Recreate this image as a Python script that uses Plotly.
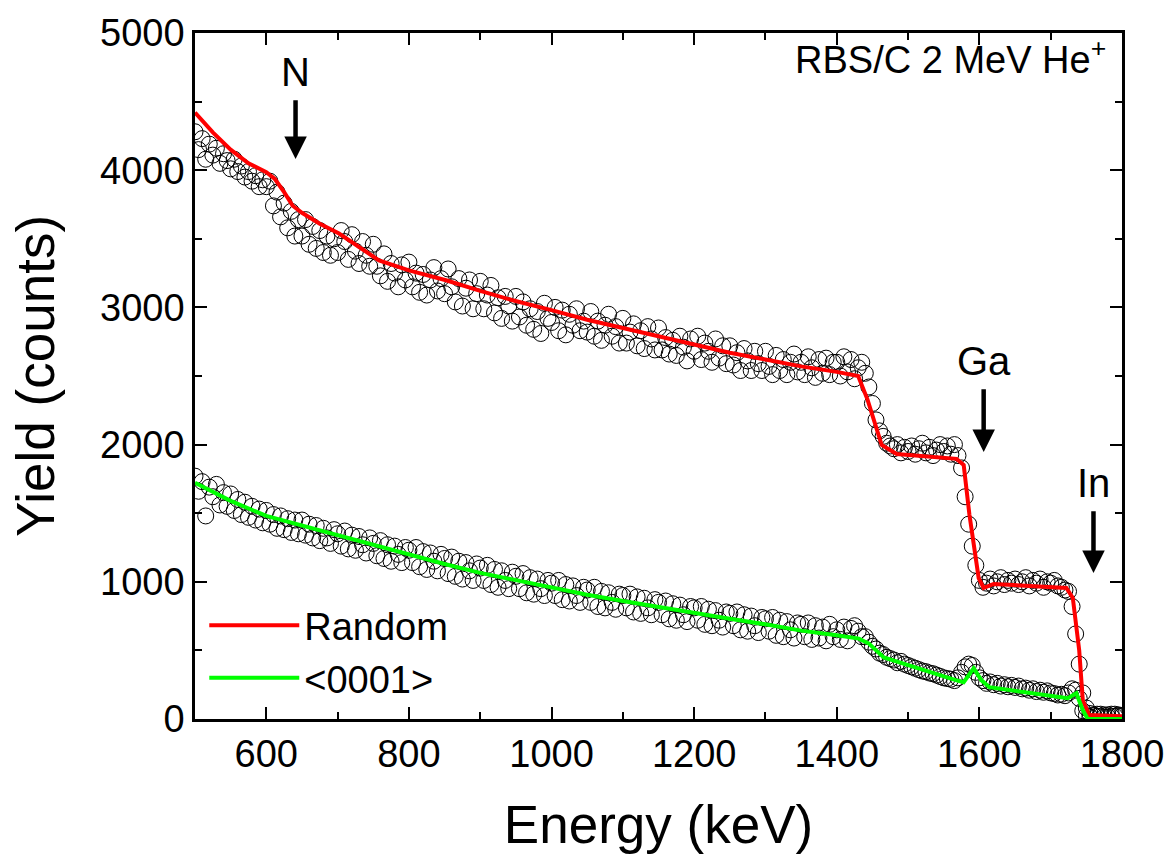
import plotly.graph_objects as go

# ---------------- data ----------------
energy = list(range(500, 1805, 5))  # channel energies (keV)

random_counts = [
    4280, 4150, 4230, 4080, 4190, 4110, 4160, 4050, 4120, 4070,
    4010, 4080, 3990, 4030, 3950, 3990, 3920, 3960, 3880, 3930,
    3880, 3920, 3740, 3840, 3660, 3760, 3580, 3700, 3520, 3640,
    3520, 3640, 3460, 3590, 3430, 3560, 3400, 3520, 3380, 3500,
    3400, 3560, 3480, 3350, 3530, 3410, 3320, 3480, 3380, 3300,
    3460, 3300, 3230, 3390, 3190, 3320, 3250, 3150, 3310, 3200,
    3330, 3150, 3250, 3110, 3240, 3090, 3200, 3290, 3120, 3210,
    3100, 3280, 3150, 3040, 3210, 3010, 3140, 3200, 2990, 3100,
    3190, 2990, 3090, 3160, 2960, 3070, 2920, 3080, 3010, 2900,
    3080, 2930, 3040, 2870, 2990, 2840, 2970, 2810, 3030, 2920,
    2890, 3000, 2830, 2980, 2800, 2950, 2870, 2990, 2830, 2900,
    2820, 2970, 2790, 2900, 2760, 2870, 2950, 2790, 2860, 2740,
    2920, 2740, 2820, 2880, 2720, 2830, 2700, 2860, 2770, 2690,
    2850, 2690, 2780, 2660, 2760, 2650, 2790, 2710, 2610, 2770,
    2680, 2790, 2620, 2740, 2680, 2600, 2770, 2630, 2720, 2590,
    2720, 2580, 2670, 2540, 2700, 2610, 2540, 2680, 2590, 2540,
    2680, 2570, 2510, 2650, 2540, 2620, 2510, 2600, 2660, 2530,
    2600, 2510, 2640, 2560, 2490, 2620, 2520, 2630, 2510, 2600,
    2600, 2500, 2640, 2530, 2620, 2480, 2560, 2600, 2520, 2420,
    2300, 2180, 2100, 2060, 2010, 1990, 1970, 2000, 1940, 1980,
    1950, 1990, 1930, 1970, 2010, 1940, 1980, 1920, 1960, 2000,
    1950, 1990, 1930, 2000, 1920, 1830, 1620, 1420, 1260, 1120,
    1010, 960, 990, 1020, 970, 1000, 1030, 980, 1010, 990,
    1020, 980, 1000, 1030, 970, 1010, 990, 1020, 960, 1000,
    990, 1010, 970, 960, 940, 930, 820, 620, 400, 190,
    80, 40, 25, 35, 20, 30, 15, 35, 20, 30,
    25,
]

aligned_counts = [
    1770, 1660, 1730, 1480, 1690, 1620, 1710, 1560, 1650, 1550,
    1640, 1520, 1600, 1490, 1580, 1470, 1550, 1450, 1530, 1430,
    1520, 1420, 1490, 1390, 1480, 1380, 1460, 1360, 1450, 1350,
    1450, 1340, 1420, 1320, 1410, 1300, 1390, 1320, 1280, 1380,
    1350, 1260, 1370, 1240, 1340, 1230, 1330, 1270, 1210, 1320,
    1280, 1190, 1300, 1170, 1270, 1150, 1260, 1200, 1140, 1250,
    1230, 1140, 1250, 1110, 1220, 1090, 1210, 1150, 1080, 1200,
    1170, 1060, 1180, 1040, 1150, 1020, 1140, 1080, 1010, 1130,
    1100, 1010, 1120, 980, 1090, 960, 1080, 1010, 950, 1070,
    1040, 950, 1060, 920, 1030, 910, 1020, 950, 900, 1010,
    990, 900, 1010, 870, 980, 860, 970, 900, 850, 960,
    940, 850, 960, 820, 930, 810, 920, 850, 800, 910,
    900, 810, 910, 780, 890, 770, 880, 810, 760, 870,
    850, 760, 860, 730, 840, 720, 830, 760, 710, 820,
    810, 720, 820, 690, 800, 680, 790, 720, 670, 780,
    770, 680, 780, 650, 760, 640, 750, 680, 630, 740,
    730, 640, 740, 610, 720, 600, 710, 650, 590, 700,
    690, 600, 700, 580, 680, 590, 670, 570, 690, 600,
    650, 580, 670, 570, 660, 680, 640, 600, 600, 560,
    530, 510, 480, 470, 450, 440, 430, 410, 420, 400,
    390, 380, 370, 360, 350, 345, 335, 330, 320, 310,
    300, 295, 290, 280, 300, 340, 380, 400, 390, 340,
    300, 280, 260, 270, 250, 260, 240, 250, 235, 245,
    230, 240, 220, 225, 210, 220, 200, 210, 195, 205,
    190, 185, 175, 180, 170, 190, 220, 210, 150, 60,
    25, 15, 30, 20, 35, 15, 30, 20, 35, 25,
    20,
]

# simulated curves
random_sim_e = [500, 525, 550, 575, 600, 612, 625, 637, 650, 675, 702, 730, 758,
                800, 852, 900, 944, 1000, 1050, 1100, 1150, 1200, 1250, 1300,
                1350, 1400, 1430, 1443, 1463, 1484, 1568, 1578, 1586, 1599,
                1606, 1620, 1722, 1731, 1740, 1745, 1754, 1800]
random_sim_y = [4420, 4276, 4150, 4050, 3985, 3936, 3840, 3741, 3690, 3610, 3538,
                3440, 3343, 3270, 3198, 3120, 3054, 2980, 2910, 2850, 2790, 2730,
                2670, 2620, 2570, 2530, 2500, 2330, 1997, 1932, 1896, 1852, 1490,
                1027, 955, 984, 955, 883, 499, 137, 29, 20]

aligned_sim_e = [500, 550, 600, 650, 700, 750, 800, 850, 900, 950, 1000, 1050,
                 1100, 1150, 1200, 1250, 1300, 1350, 1400, 1431, 1445, 1466,
                 1568, 1578, 1592, 1603, 1614, 1724, 1736, 1745, 1752, 1800]
aligned_sim_y = [1722, 1590, 1480, 1410, 1335, 1265, 1200, 1130, 1065, 1010, 955,
                 905, 860, 815, 770, 730, 690, 644, 610, 586, 550, 449, 282, 268,
                 369, 282, 232, 152, 188, 65, 0, 0]

x_ticks = [600, 800, 1000, 1200, 1400, 1600, 1800]
y_ticks = [0, 1000, 2000, 3000, 4000, 5000]

# element edge markers: label, energy, label height, arrow head height
edge_labels = ["N", "Ga", "In"]
edge_energy = [641, 1606, 1760]
edge_label_y = [4718, 2612, 1722]
edge_head_y = [4081, 1946, 1064]

FONT = "Liberation Sans, Arial, sans-serif"

fig = go.Figure()

marker_style = dict(symbol="circle-open", size=16, color="black", line=dict(width=1, color="black"))
fig.add_trace(go.Scatter(x=energy, y=random_counts, mode="markers", marker=marker_style,
                         showlegend=False, name="Random data"))
fig.add_trace(go.Scatter(x=energy, y=aligned_counts, mode="markers", marker=marker_style,
                         showlegend=False, name="<0001> data"))
fig.add_trace(go.Scatter(x=random_sim_e, y=random_sim_y, mode="lines",
                         line=dict(color="#ff0000", width=4), name="Random"))
fig.add_trace(go.Scatter(x=aligned_sim_e, y=aligned_sim_y, mode="lines",
                         line=dict(color="#00ff00", width=4), name="&lt;0001&gt;"))

axis_common = dict(
    showline=True, linecolor="black", linewidth=2.5, mirror="allticks",
    ticks="inside", ticklen=12, tickwidth=2, tickcolor="black",
    showgrid=False, zeroline=False,
    tickfont=dict(family=FONT, size=38, color="black"),
)

fig.update_xaxes(
    range=[500, 1800], tickvals=x_ticks,
    minor=dict(dtick=100, tick0=500, ticks="inside", ticklen=7, tickwidth=2, tickcolor="black", showgrid=False),
    title=dict(text="Energy (keV)", font=dict(family=FONT, size=53, color="black"), standoff=32),
    **axis_common,
)
fig.update_yaxes(
    range=[0, 5000], tickvals=y_ticks,
    minor=dict(dtick=500, tick0=0, ticks="inside", ticklen=7, tickwidth=2, tickcolor="black", showgrid=False),
    title=dict(text="Yield (counts)", font=dict(family=FONT, size=53, color="black"), standoff=29),
    **axis_common,
)

for lab, e, ly, hy in zip(edge_labels, edge_energy, edge_label_y, edge_head_y):
    fig.add_annotation(x=e, y=hy, ax=e, ay=ly, axref="x", ayref="y", text=lab,
                       showarrow=True, arrowhead=2, arrowsize=1.0, arrowwidth=4.5,
                       arrowcolor="black", borderpad=6,
                       font=dict(family=FONT, size=40, color="black"))

fig.add_annotation(xref="paper", yref="paper", x=0.985, y=0.965, xanchor="right", yanchor="middle",
                   text="RBS/C 2 MeV He<sup>+</sup>", showarrow=False,
                   font=dict(family=FONT, size=38, color="black"))

fig.update_layout(
    width=1176, height=859,
    margin=dict(l=195, r=50, t=28, b=140),
    paper_bgcolor="white", plot_bgcolor="white",
    legend=dict(x=0.01, y=0.182, xanchor="left", yanchor="top",
                bgcolor="rgba(0,0,0,0)", borderwidth=0,
                font=dict(family=FONT, size=38, color="black"),
                itemwidth=90, tracegroupgap=0),
)

fig.write_html("out.html")
